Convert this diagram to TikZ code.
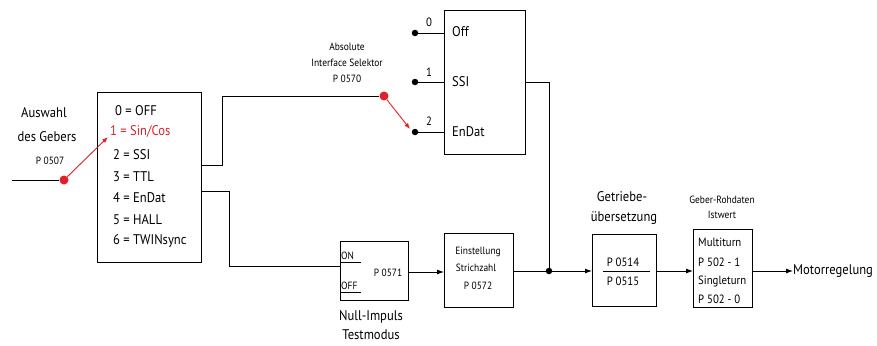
\documentclass[tikz,border=0pt]{standalone}
\usepackage{fontspec}
\setmainfont{PT Sans}[FakeStretch=0.9]
\usetikzlibrary{arrows.meta}
\definecolor{sigred}{RGB}{226,32,40}
\tikzset{
  blk/.style={draw, line width=0.9pt, rectangle, inner sep=0pt},
  wire/.style={line width=0.9pt},
  arr/.style={wire, -{Latex[length=7pt,width=5pt]}},
  redarr/.style={line width=0.9pt, sigred, -{Latex[length=6pt,width=4.5pt]}},
  jdot/.style={circle, fill, inner sep=0pt, minimum size=6.5pt},
  rdot/.style={circle, fill=sigred, inner sep=0pt, minimum size=9pt},
  big/.style={font=\fontsize{14}{16}\selectfont, inner sep=0pt},
  mid/.style={font=\fontsize{12}{14}\selectfont, inner sep=0pt},
  small/.style={font=\fontsize{10.5}{12}\selectfont, inner sep=0pt},
}
\begin{document}
\begin{tikzpicture}[x=1pt,y=-1pt]
\useasboundingbox (0,0) rectangle (877,345);
% main selector box
\node[blk, minimum width=104pt, minimum height=170pt, anchor=north west] (mbox) at (97,92) {};
\node[big, anchor=west] (t0) at (115,111) {0 = OFF};
\node[big, anchor=west, text=sigred] (t1) at (110,131) {1 = Sin/Cos};
\node[big, anchor=west] (t2) at (113,155) {2 = SSI};
\node[big, anchor=west] (t3) at (113,177) {3 = TTL};
\node[big, anchor=west] (t4) at (113,198) {4 = EnDat};
\node[big, anchor=west] (t5) at (113,220) {5 = HALL};
\node[big, anchor=west] (t6) at (113,241) {6 = TWINsync};
% input
\node[big] (ausw1) at (44,113) {Auswahl};
\node[big] (ausw2) at (47,137) {des Gebers};
\node[small] (p507) at (50,161) {P 0507};
\coordinate (inL) at (12,180);
\node[rdot] (rd1) at (64,180) {};
\draw[wire] (inL) -- (rd1);
\coordinate (rt1) at (108,137);
\draw[redarr] (rd1) -- (rt1);
% interface selector
\node[blk, minimum width=81pt, minimum height=144pt, anchor=north west] (sbox) at (444,10) {};
\node[big, anchor=west] (soff) at (452,32) {Off};
\node[big, anchor=west] (sssi) at (452,82) {SSI};
\node[big, anchor=west] (send) at (452,132) {EnDat};
\node[jdot] (d0) at (415,33) {};
\node[jdot] (d1) at (415,82) {};
\node[jdot] (d2) at (415,132) {};
\draw[wire] (d0) -- (sbox.west |- d0);
\draw[wire] (d1) -- (sbox.west |- d1);
\draw[wire] (d2) -- (sbox.west |- d2);
\node[mid] (n0) at (429,22) {0};
\node[mid] (n1) at (429,72) {1};
\node[mid] (n2) at (429,121) {2};
\node[small] (abs1) at (347,47) {Absolute};
\node[small] (abs2) at (347,63) {Interface Selektor};
\node[small] (abs3) at (347,79) {P 0570};
\node[rdot] (rd2) at (384,96) {};
\coordinate (rt2) at (410,129);
\draw[redarr] (rd2) -- (rt2);
\draw[wire] (mbox.east |- 0,165) -| (222,96) -- (rd2);
% Null-Impuls
\node[blk, minimum width=68pt, minimum height=59pt, anchor=north west] (nbox) at (340,241) {};
\node[small, anchor=south west] (on) at (341,260) {ON};
\node[small, anchor=south west] (off) at (341,290) {OFF};
\draw[wire] (340,262) -- (361,262);
\draw[wire] (340,292) -- (361,292);
\node[small] (p571) at (388,273) {P 0571};
\node[big] (null1) at (371,317) {Null-Impuls};
\node[big] (null2) at (371,335) {Testmodus};
\draw[wire] (mbox.east |- 0,191) -| (229,266) -- (nbox.west |- 0,266);
% Einstellung
\node[blk, minimum width=69pt, minimum height=74pt, anchor=north west] (ebox) at (444,233) {};
\node[small] (e1) at (478,252) {Einstellung};
\node[small] (e2) at (476,268) {Strichzahl};
\node[small] (e3) at (478,286) {P 0572};
\draw[arr] (nbox.east |- 0,272) -- (ebox.west |- 0,272);
% junction
\node[jdot] (junc) at (549,271) {};
\draw[wire] (sbox.east |- d1) -| (junc);
\draw[wire] (ebox.east |- junc) -- (junc);
% Getriebe
\node[blk, minimum width=64pt, minimum height=72pt, anchor=north west] (gbox) at (592,234) {};
\node[mid] (g1) at (623,262) {P 0514};
\draw[wire] (603,271) -- (650,271);
\node[mid] (g2) at (623,281) {P 0515};
\node[big] (gl1) at (622,197) {Getriebe-};
\node[big] (gl2) at (624,218) {übersetzung};
\draw[arr] (junc) -- (gbox.west |- junc);
% Geber-Rohdaten
\node[blk, minimum width=59pt, minimum height=78pt, anchor=north west] (rbox) at (693,229) {};
\node[mid, anchor=west] (r1) at (698,242) {Multiturn};
\node[mid, anchor=west] (r2) at (698,262) {P 502 - 1};
\node[mid, anchor=west] (r3) at (698,281) {Singleturn};
\node[mid, anchor=west] (r4) at (698,299) {P 502 - 0};
\node[small] (rl1) at (722,200) {Geber-Rohdaten};
\node[small] (rl2) at (722,215) {Istwert};
\draw[arr] (gbox.east |- junc) -- (rbox.west |- junc);
\node[big, anchor=west] (motor) at (793,271) {Motorregelung};
\draw[arr] (rbox.east |- junc) -- (motor.west);
\end{tikzpicture}
\end{document}
